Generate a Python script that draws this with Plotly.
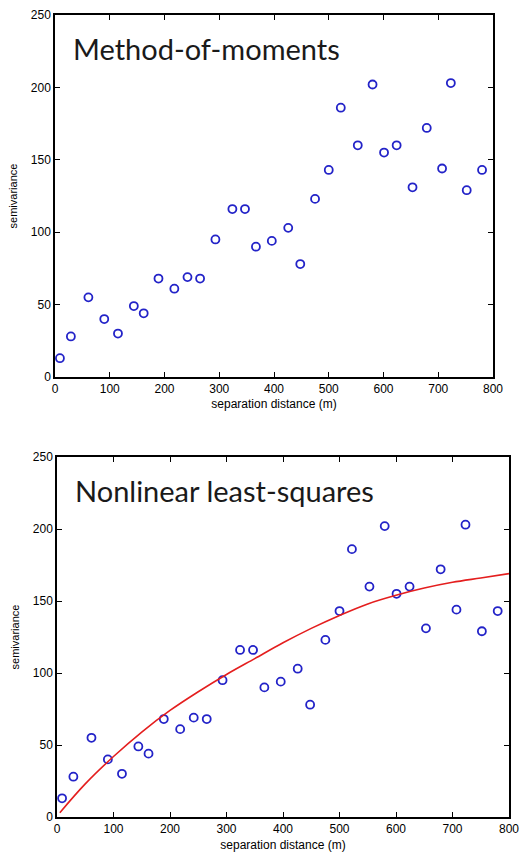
import plotly.graph_objects as go

# Empirical semivariogram (method of moments)
dist = [9, 29, 61, 90, 115, 144, 162, 189, 218, 242, 265, 293, 324, 347, 367, 396,
        426, 448, 475, 500, 522, 553, 580, 601, 624, 653, 679, 707, 723, 752, 780]
semiv = [13, 28, 55, 40, 30, 49, 44, 68, 61, 69, 68, 95, 116, 116, 90, 94,
         103, 78, 123, 143, 186, 160, 202, 155, 160, 131, 172, 144, 203, 129, 143]

# Fitted model (nonlinear least squares)
fit_x = [5, 50, 100, 150, 200, 250, 300, 350, 400, 450, 500, 550, 600, 650, 700, 750, 800]
fit_y = [3, 23, 42, 59, 74, 87, 99, 110, 121, 131, 140, 148, 154, 159, 163, 166, 169]

x_ticks = [0, 100, 200, 300, 400, 500, 600, 700, 800]
y_ticks = [0, 50, 100, 150, 200, 250]
titles = ["Method-of-moments", "Nonlinear least-squares"]

W, H = 527, 856

def fx(px):
    return px / W

def fy(py):
    return 1 - py / H

marker = dict(symbol="circle-open", size=8, color="rgb(35,35,200)", line=dict(width=1.8))

fig = go.Figure()
fig.add_trace(go.Scatter(x=dist, y=semiv, mode="markers", marker=marker,
                         xaxis="x", yaxis="y", showlegend=False))
fig.add_trace(go.Scatter(x=dist, y=semiv, mode="markers", marker=marker,
                         xaxis="x2", yaxis="y2", showlegend=False))
fig.add_trace(go.Scatter(x=fit_x, y=fit_y, mode="lines", line=dict(color="rgb(228,30,30)", width=1.6, shape="spline"),
                         xaxis="x2", yaxis="y2", showlegend=False))

tickfont = dict(family="Arial", size=12, color="black")
titlefont = dict(family="Arial", size=12, color="black")

def xax(domain, anchor, standoff):
    return dict(domain=domain, anchor=anchor, range=[0, 800], tickvals=x_ticks,
                ticks="inside", ticklen=5, tickwidth=1.2, tickcolor="black",
                showline=True, linecolor="black", linewidth=1.5, mirror="ticks",
                showgrid=False, zeroline=False, tickfont=tickfont, automargin=False,
                title=dict(text="separation distance (m)", font=titlefont, standoff=standoff))

def yax(domain, anchor):
    return dict(domain=domain, anchor=anchor, range=[0, 250], tickvals=y_ticks,
                ticks="inside", ticklen=5, tickwidth=1.2, tickcolor="black",
                showline=True, linecolor="black", linewidth=1.5, mirror="ticks",
                showgrid=False, zeroline=False, tickfont=tickfont, automargin=False,
                title=dict(text="semivariance", font=dict(family="Arial", size=11, color="black"), standoff=11))

fig.update_layout(
    width=W, height=H,
    margin=dict(l=0, r=0, t=0, b=0, autoexpand=False),
    paper_bgcolor="white", plot_bgcolor="white",
    xaxis=xax([fx(55), fx(493)], "y", 4),
    yaxis=yax([fy(377), fy(15)], "x"),
    xaxis2=xax([fx(57), fx(509)], "y2", 5),
    yaxis2=yax([fy(817), fy(457)], "x2"),
    annotations=[
        dict(text=titles[0], x=30, y=227, xref="x", yref="y", xanchor="left", yanchor="middle",
             showarrow=False, font=dict(family="Lato", size=29, color="#1a1a1a")),
        dict(text=titles[1], x=28, y=227, xref="x2", yref="y2", xanchor="left", yanchor="middle",
             showarrow=False, font=dict(family="Lato", size=29, color="#1a1a1a")),
    ],
)

fig.write_html("out.html", config={"displayModeBar": False},
               post_script="document.body.style.margin='0';document.body.style.overflow='hidden';")
